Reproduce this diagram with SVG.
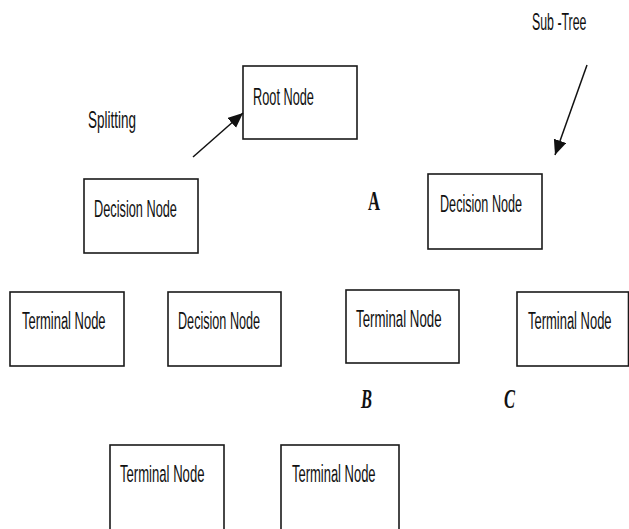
<svg xmlns="http://www.w3.org/2000/svg" width="629" height="529" viewBox="0 0 629 529">
<defs>
<style>
.box{fill:#fff;stroke:#1a1a1a;stroke-width:1.6}
.lbl{font-family:"Liberation Sans",Arial,sans-serif;font-size:23.5px;fill:#111}
.let{font-family:"Liberation Serif","Times New Roman",serif;font-size:28px;font-weight:bold;fill:#111}
.conn{stroke:#111;stroke-width:1.5;fill:none}
</style>
<marker id="ah" markerUnits="userSpaceOnUse" markerWidth="16" markerHeight="14" refX="15" refY="6.5" orient="auto">
<path d="M0,0 L15,6.5 L0,13 z" fill="#111"/>
</marker>
</defs>
<rect width="629" height="529" fill="#fff"/>
<text class="lbl" transform="translate(88,128) scale(0.574,1)">Splitting</text>
<text class="lbl" transform="translate(532,30) scale(0.526,1)">Sub -Tree</text>
<text class="let" x="368" y="210" textLength="12" lengthAdjust="spacingAndGlyphs">A</text>
<text class="let" x="361" y="408" font-style="italic" textLength="11" lengthAdjust="spacingAndGlyphs">B</text>
<text class="let" x="504" y="408" font-style="italic" textLength="11" lengthAdjust="spacingAndGlyphs">C</text>
<g id="root"><rect class="box" x="243" y="66" width="114" height="73"/><text class="lbl" transform="translate(253,105) scale(0.543,1)">Root Node</text></g>
<g id="decision1"><rect class="box" x="84" y="179" width="114" height="74"/><text class="lbl" transform="translate(94,217) scale(0.543,1)">Decision Node</text></g>
<g id="decision2"><rect class="box" x="428" y="174" width="114" height="75"/><text class="lbl" transform="translate(440,212) scale(0.537,1)">Decision Node</text></g>
<g id="terminal1"><rect class="box" x="10" y="292" width="114" height="74"/><text class="lbl" transform="translate(22,329) scale(0.552,1)">Terminal Node</text></g>
<g id="decision3"><rect class="box" x="168" y="292" width="113" height="74"/><text class="lbl" transform="translate(178,329) scale(0.537,1)">Decision Node</text></g>
<g id="terminal3"><rect class="box" x="346" y="290" width="113" height="73"/><text class="lbl" transform="translate(356,327) scale(0.565,1)">Terminal Node</text></g>
<g id="terminal4"><rect class="box" x="517" y="292" width="111.5" height="74"/><text class="lbl" transform="translate(528,329) scale(0.552,1)">Terminal Node</text></g>
<g id="terminal5"><rect class="box" x="110" y="445" width="114" height="90"/><text class="lbl" transform="translate(120,482) scale(0.558,1)">Terminal Node</text></g>
<g id="terminal6"><rect class="box" x="281" y="445" width="118" height="90"/><text class="lbl" transform="translate(292,482) scale(0.552,1)">Terminal Node</text></g>
<g id="connectors">
<line class="conn" x1="193" y1="157" x2="243" y2="113" marker-end="url(#ah)"/>
<line class="conn" x1="587" y1="65" x2="555" y2="155" marker-end="url(#ah)"/>
</g>
</svg>
